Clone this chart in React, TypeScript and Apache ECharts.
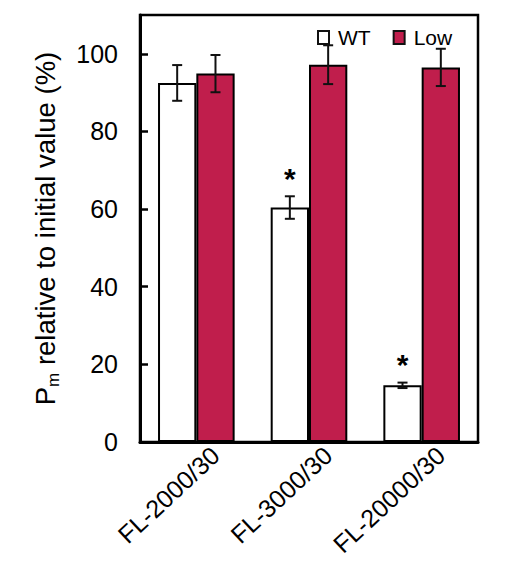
import React, { useEffect, useRef } from "react";
import * as echarts from "echarts";

const categories = ["FL-2000/30", "FL-3000/30", "FL-20000/30"];
const wtMean = [92.5, 60.4, 14.6];
const wtErr = [4.6, 2.9, 0.7];
const lowMean = [94.9, 97.2, 96.5];
const lowErr = [4.8, 5.0, 4.8];
const wtSignificant = [false, true, true];
const seriesNames = ["WT", "Low"];
const yMin = 0;
const yMax = 110;
const yInterval = 20;

const FONT = "'Liberation Sans', Arial, sans-serif";
const LOW_COLOR = "#C01E4C";

export default function App() {
  const ref = useRef<HTMLDivElement>(null);

  useEffect(() => {
    document.body.style.margin = "0";
    if (!ref.current) return;
    const chart = echarts.init(ref.current, null, { renderer: "svg" });

    const errData: number[][] = [];
    categories.forEach((_, i) => {
      errData.push([i, wtMean[i], wtErr[i], -1, wtSignificant[i] ? 1 : 0]);
      errData.push([i, lowMean[i], lowErr[i], 1, 0]);
    });

    const option: any = {
      animation: false,
      textStyle: { fontFamily: FONT },
      grid: {
        left: 140,
        right: 35,
        top: 15,
        bottom: 127,
        show: true,
        borderColor: "#000",
        borderWidth: 2.5,
        backgroundColor: "transparent",
      },
      legend: {
        data: seriesNames,
        left: 312,
        top: 22,
        icon: "rect",
        itemWidth: 11,
        itemHeight: 13,
        itemGap: 22,
        itemStyle: { borderColor: "#111", borderWidth: 2 },
        textStyle: { fontSize: 21, color: "#000", fontFamily: FONT, padding: [0, 0, 0, 4] },
      },
      xAxis: {
        type: "category",
        data: categories,
        axisLine: { show: true, lineStyle: { color: "#000", width: 3 } },
        axisTick: { show: false },
        axisLabel: {
          interval: 0,
          rotate: 43,
          fontSize: 25,
          color: "#000",
          fontFamily: FONT,
          margin: 27,
          padding: [0, -26, 0, 0],
        },
      },
      yAxis: {
        type: "value",
        min: yMin,
        max: yMax,
        interval: yInterval,
        splitLine: { show: false },
        axisLine: { show: true, lineStyle: { color: "#000", width: 3 } },
        axisTick: { show: true, inside: true, length: 8, lineStyle: { color: "#000", width: 2.5 } },
        axisLabel: { fontSize: 25, color: "#000", fontFamily: FONT, margin: 22, showMaxLabel: false },
        name: "{a|P}{b|m}{a| relative to initial value (%)}",
        nameLocation: "middle",
        nameGap: 78,
        nameTextStyle: {
          rich: {
            a: { fontSize: 27.5, color: "#000", fontFamily: FONT, lineHeight: 34, verticalAlign: "middle" },
            b: { fontSize: 17, color: "#000", fontFamily: FONT, lineHeight: 17, verticalAlign: "bottom" },
          },
        },
      },
      series: [
        {
          name: seriesNames[0],
          type: "bar",
          data: wtMean,
          barWidth: "34%",
          barGap: "0%",
          itemStyle: { color: "#fff", borderColor: "#000", borderWidth: 2 },
        },
        {
          name: seriesNames[1],
          type: "bar",
          data: lowMean,
          barWidth: "34%",
          barGap: "0%",
          itemStyle: { color: LOW_COLOR, borderColor: "#000", borderWidth: 2 },
        },
        {
          type: "custom",
          data: errData,
          encode: { x: 0, y: 1 },
          z: 10,
          renderItem: (params: any, api: any) => {
            const cat = api.value(0);
            const mean = api.value(1);
            const err = api.value(2);
            const side = api.value(3);
            const sig = api.value(4);
            const band = api.size([1, 0])[0];
            const cx = api.coord([cat, 0])[0] + side * band * 0.17;
            const top = api.coord([cat, mean + err])[1];
            const bot = api.coord([cat, mean - err])[1];
            const cap = 5;
            const ls = { stroke: "#111", lineWidth: 2 };
            const children: any[] = [
              { type: "line", shape: { x1: cx, y1: top, x2: cx, y2: bot }, style: ls },
              { type: "line", shape: { x1: cx - cap, y1: top, x2: cx + cap, y2: top }, style: ls },
              { type: "line", shape: { x1: cx - cap, y1: bot, x2: cx + cap, y2: bot }, style: ls },
            ];
            if (sig) {
              children.push({
                type: "text",
                x: cx,
                y: top - 18,
                style: {
                  text: "*",
                  fontSize: 30,
                  fontWeight: "bold",
                  fontFamily: FONT,
                  fill: "#000",
                  align: "center",
                  verticalAlign: "middle",
                },
              });
            }
            return { type: "group", children };
          },
        },
      ],
    };

    chart.setOption(option);
    return () => chart.dispose();
  }, []);

  return <div ref={ref} style={{ width: 513, height: 569 }} />;
}
